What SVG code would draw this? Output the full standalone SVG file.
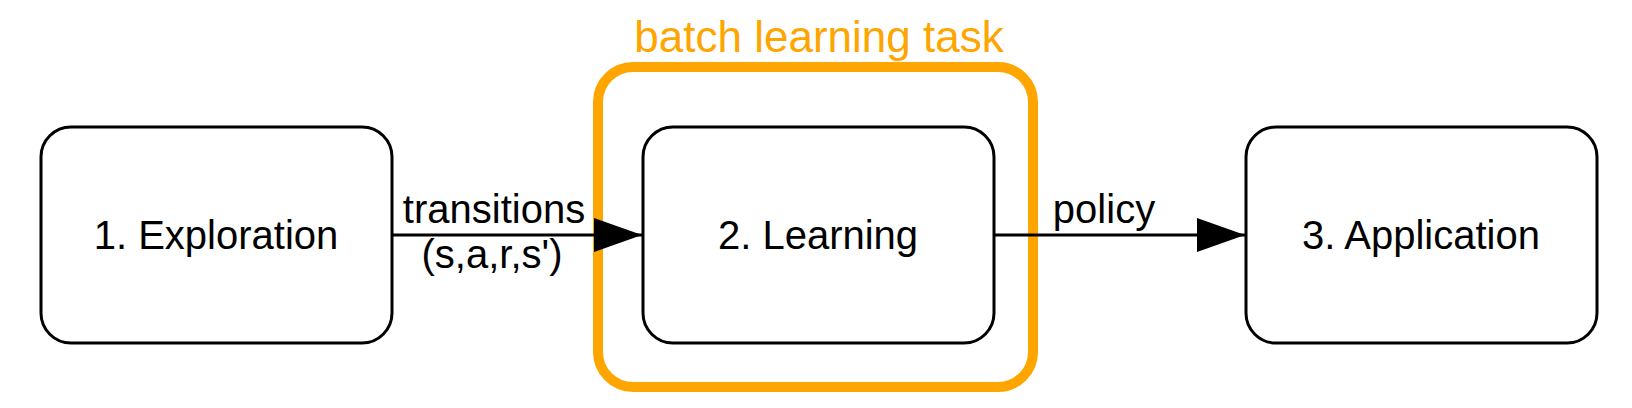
<svg xmlns="http://www.w3.org/2000/svg" width="1632" height="408" viewBox="0 0 1632 408">
<defs>
<style>
.node{fill:#fff;stroke:#000;stroke-width:3}
.t{font-family:"Liberation Sans",Arial,sans-serif;font-size:40px;fill:#000;text-anchor:middle}
.edge{stroke:#000;stroke-width:3;fill:none}
</style>
<marker id="arr" markerUnits="userSpaceOnUse" markerWidth="50" markerHeight="34" refX="48" refY="17" orient="auto">
<path d="M0,0 L48,17 L0,34 Z" fill="#000"/>
</marker>
</defs>
<rect width="1632" height="408" fill="#fff"/>
<g id="batch">
<rect x="598" y="67" width="435" height="320" rx="35" ry="35" fill="none" stroke="#FFA500" stroke-width="10"/>
<text x="819" y="52" class="t" style="font-size:44px;fill:#FFA500">batch learning task</text>
</g>
<g id="connectors">
<line class="edge" x1="392" y1="235" x2="642" y2="235" marker-end="url(#arr)"/>
<text x="494" y="223" class="t">transitions</text>
<text x="492" y="268" class="t">(s,a,r,s')</text>
<line class="edge" x1="994" y1="235" x2="1245" y2="235" marker-end="url(#arr)"/>
<text x="1104" y="223" class="t">policy</text>
</g>
<g id="exploration">
<rect class="node" x="41" y="127" width="351" height="216" rx="30" ry="30"/>
<text x="216" y="249" class="t">1. Exploration</text>
</g>
<g id="learning">
<rect class="node" x="643" y="127" width="351" height="216" rx="30" ry="30"/>
<text x="818" y="249" class="t">2. Learning</text>
</g>
<g id="application">
<rect class="node" x="1246" y="127" width="351" height="216" rx="30" ry="30"/>
<text x="1421" y="249" class="t">3. Application</text>
</g>
</svg>
